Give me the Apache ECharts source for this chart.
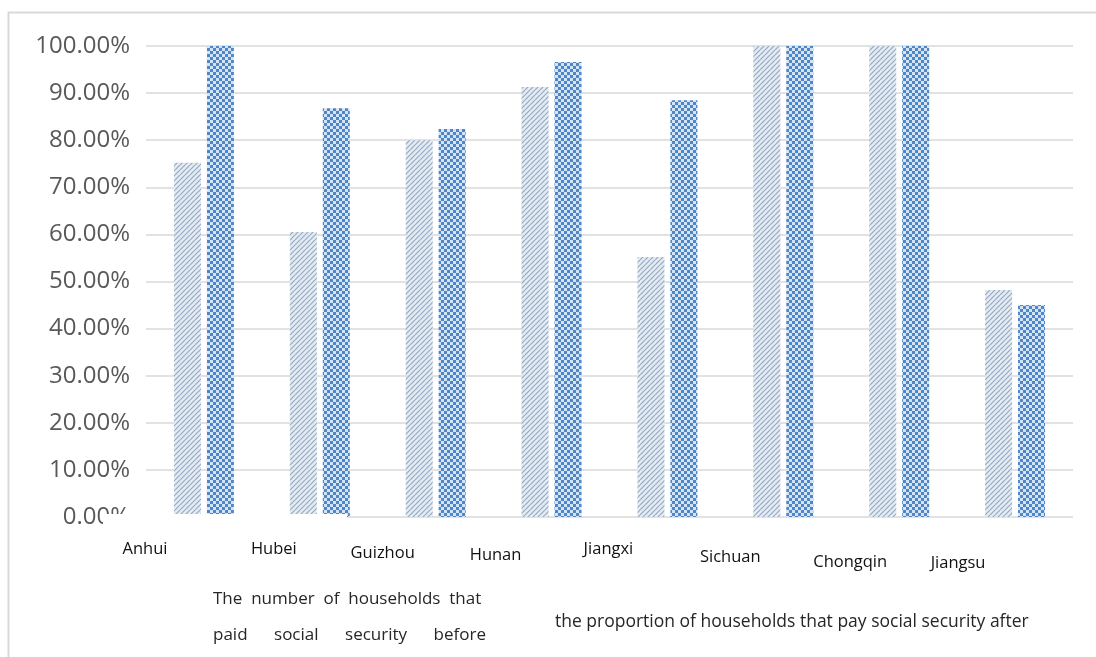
<!DOCTYPE html>
<html>
<head>
<meta charset="utf-8">
<script src="https://cdn.jsdelivr.net/npm/echarts@6/dist/echarts.min.js"></script>
<style>
  html, body { margin: 0; padding: 0; background: #fff; }
  #chart { width: 1096px; height: 657px; }
</style>
</head>
<body>
<div id="chart"></div>
<script>
// provinces and the two shares (%)
const provinces = ['Anhui', 'Hubei', 'Guizhou', 'Hunan', 'Jiangxi', 'Sichuan', 'Chongqin', 'Jiangsu'];
const beforeShare = [75.2, 60.5, 80.0, 91.3, 55.2, 100, 100, 48.2];
const afterShare = [100, 86.8, 82.4, 96.6, 88.5, 100, 100, 45.0];
const yTicks = [0, 10, 20, 30, 40, 50, 60, 70, 80, 90, 100];

const beforeName = 'The number of households that paid social security before';
const afterName = 'the proportion of households that pay social security after';

// the category labels sit a bit left of and below their bars in the original
const labelShiftX = [59, 46, 53, 56, 59, 53, 49, 57];
const labelShiftY = [2, 2, 6, 8, 2, 10, 15, 16];

const FONT = '"Open Sans", "Noto Sans", sans-serif';

function hatchPattern() {
  const c = document.createElement('canvas');
  c.width = 5; c.height = 5;
  const ctx = c.getContext('2d');
  ctx.fillStyle = '#e4ebf3';
  ctx.fillRect(0, 0, 5, 5);
  ctx.strokeStyle = '#94aac3';
  ctx.lineWidth = 1.2;
  [[-5, 5], [0, 5], [5, 5]].forEach(function (p) {
    ctx.beginPath();
    ctx.moveTo(p[0], p[1]);
    ctx.lineTo(p[0] + 5, p[1] - 5);
    ctx.stroke();
  });
  return c;
}

function checkPattern() {
  const c = document.createElement('canvas');
  c.width = 6; c.height = 6;
  const ctx = c.getContext('2d');
  ctx.fillStyle = '#4f86c8';
  ctx.fillRect(0, 0, 6, 6);
  ctx.fillStyle = '#d3e4f6';
  ctx.fillRect(0, 0, 3, 3);
  ctx.fillRect(3, 3, 3, 3);
  return c;
}

const rich = {};
provinces.forEach(function (p, i) {
  rich['l' + i] = {
    fontFamily: FONT,
    fontSize: 16.5,
    color: '#111',
    padding: [labelShiftY[i], labelShiftX[i] * 2, 0, 0]
  };
});

const chart = echarts.init(document.getElementById('chart'), null, { renderer: 'canvas' });

const option = {
  backgroundColor: '#fff',
  animation: false,
  grid: { left: 146, right: 23, top: 46, bottom: 140 },
  legend: {
    left: 203,
    top: 576,
    itemWidth: 0,
    itemHeight: 0,
    itemGap: 64,
    icon: 'rect',
    selectedMode: false,
    data: [beforeName, afterName],
    formatter: function (name) {
      if (name === beforeName) {
        return '{a|The  number  of  households  that\npaid      social      security      before}';
      }
      return '{b|' + name + '}';
    },
    textStyle: {
      fontFamily: FONT,
      fontSize: 17,
      color: '#262626',
      lineHeight: 36,
      rich: {
        a: { fontFamily: FONT, fontSize: 17, color: '#262626', lineHeight: 36 },
        b: { fontFamily: FONT, fontSize: 17.5, color: '#262626', lineHeight: 36, padding: [10, 0, 0, 0] }
      }
    }
  },
  xAxis: {
    type: 'category',
    data: provinces,
    axisLine: { show: false },
    axisTick: { show: false },
    axisLabel: {
      margin: 22,
      interval: 0,
      formatter: function (v, i) { return '{l' + i + '|' + v + '}'; },
      rich: rich
    }
  },
  yAxis: {
    type: 'value',
    min: yTicks[0],
    max: yTicks[yTicks.length - 1],
    interval: yTicks[1] - yTicks[0],
    axisLine: { show: false },
    axisTick: { show: false },
    axisLabel: {
      margin: 16,
      fontFamily: FONT,
      fontSize: 24,
      color: '#595959',
      formatter: function (v) { return v.toFixed(2) + '%'; }
    },
    splitLine: { lineStyle: { color: '#d9d9d9', width: 1.5 } }
  },
  series: [
    {
      name: beforeName,
      type: 'bar',
      data: beforeShare,
      barWidth: 27,
      barGap: '22%',
      itemStyle: { color: { image: hatchPattern(), repeat: 'repeat' } }
    },
    {
      name: afterName,
      type: 'bar',
      data: afterShare,
      barWidth: 27,
      itemStyle: { color: { image: checkPattern(), repeat: 'repeat' } }
    }
  ],
  graphic: [
    {
      type: 'rect',
      z: 100,
      shape: { x: 8.5, y: 12.5, width: 1200, height: 800 },
      style: { fill: 'none', stroke: '#d9d9d9', lineWidth: 2 }
    },
    {
      // the original has the foot of the axis cut off here
      type: 'rect',
      z: 100,
      shape: { x: 103, y: 514, width: 244, height: 18 },
      style: { fill: '#fff' }
    }
  ]
};

chart.setOption(option);
</script>
</body>
</html>
